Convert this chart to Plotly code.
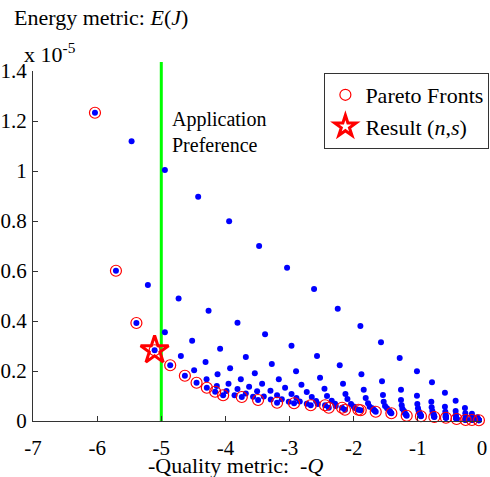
import plotly.graph_objects as go

# ---- data (x = -Q, y = E in units of 1e-5 J) ----
q1 = [-6.034, -5.463, -4.944, -4.425, -3.942, -3.475, -3.039, -2.618, -2.249, -1.896,
      -1.575, -1.283, -1.014, -0.780, -0.578, -0.411, -0.266, -0.157, -0.073]
e1 = [1.233, 1.119, 1.004, 0.897, 0.799, 0.700, 0.613, 0.528, 0.449, 0.380,
      0.315, 0.252, 0.199, 0.155, 0.113, 0.081, 0.052, 0.029, 0.015]
q2 = [-5.707, -5.209, -4.730, -4.263, -3.812, -3.382, -2.970, -2.572, -2.218, -1.880,
      -1.559, -1.263, -1.014, -0.790, -0.578, -0.411, -0.260, -0.151, -0.061]
e2 = [0.601, 0.544, 0.490, 0.441, 0.393, 0.347, 0.301, 0.260, 0.223, 0.187,
      0.159, 0.125, 0.101, 0.077, 0.057, 0.040, 0.031, 0.016, 0.008]
q3 = [-5.388, -4.944, -4.519, -4.083, -3.682, -3.277, -2.899, -2.525, -2.167, -1.844,
      -1.544, -1.263, -1.008, -0.785, -0.572, -0.407, -0.255, -0.150, -0.058]
e3 = [0.392, 0.355, 0.321, 0.289, 0.256, 0.228, 0.199, 0.173, 0.149, 0.125,
      0.104, 0.084, 0.068, 0.055, 0.037, 0.025, 0.017, 0.009, 0.006]
q4 = [-5.104, -4.695, -4.310, -3.927, -3.542, -3.168, -2.815, -2.456, -2.129, -1.813,
      -1.533, -1.252, -0.998, -0.774, -0.567, -0.403, -0.255, -0.148, -0.056]
e4 = [0.283, 0.260, 0.236, 0.211, 0.191, 0.167, 0.145, 0.129, 0.108, 0.092,
      0.077, 0.063, 0.051, 0.040, 0.024, 0.016, 0.010, 0.007, 0.005]
q5 = [-4.861, -4.488, -4.123, -3.760, -3.428, -3.070, -2.732, -2.416, -2.098, -1.777,
      -1.512, -1.241, -0.988, -0.759, -0.565, -0.402, -0.255, -0.148, -0.055]
e5 = [0.223, 0.203, 0.187, 0.167, 0.149, 0.133, 0.116, 0.100, 0.088, 0.071,
      0.060, 0.049, 0.040, 0.030, 0.019, 0.012, 0.008, 0.005, 0.004]
q6 = [-4.632, -4.294, -3.952, -3.631, -3.298, -2.970, -2.654, -2.343, -2.042, -1.751,
      -1.481, -1.217, -0.972, -0.754, -0.564, -0.400, -0.255, -0.148, -0.053]
e6 = [0.181, 0.167, 0.149, 0.137, 0.121, 0.108, 0.096, 0.081, 0.068, 0.057,
      0.051, 0.040, 0.032, 0.024, 0.016, 0.010, 0.006, 0.005, 0.004]
q7 = [-4.450, -4.134, -3.812, -3.506, -3.195, -2.893, -2.587, -2.291, -2.000, -1.709,
      -1.439, -1.201, -0.964, -0.750, -0.564, -0.399, -0.255, -0.148, -0.053]
e7 = [0.153, 0.140, 0.128, 0.119, 0.103, 0.092, 0.080, 0.069, 0.058, 0.051,
      0.040, 0.031, 0.026, 0.021, 0.015, 0.009, 0.005, 0.004, 0.004]
q8 = [-4.290, -3.983, -3.682, -3.402, -3.121, -2.841, -2.561, -2.280, -1.984, -1.688,
      -1.431, -1.190, -0.956, -0.746, -0.562, -0.397, -0.255, -0.157, -0.051]
e8 = [0.133, 0.120, 0.110, 0.098, 0.087, 0.078, 0.068, 0.060, 0.052, 0.045,
      0.036, 0.027, 0.023, 0.019, 0.014, 0.009, 0.005, 0.004, 0.003]
q9 = [-4.160, -3.858, -3.569, -3.293, -3.012, -2.732, -2.447, -2.182, -1.927, -1.673,
      -1.424, -1.182, -0.953, -0.745, -0.562, -0.396, -0.255, -0.157, -0.050]
e9 = [0.117, 0.103, 0.097, 0.086, 0.077, 0.069, 0.063, 0.053, 0.045, 0.041,
      0.033, 0.024, 0.021, 0.017, 0.013, 0.008, 0.004, 0.004, 0.003]
q10 = [-4.036, -3.745, -3.491, -3.195, -2.930, -2.670, -2.389, -2.136, -1.891, -1.657,
       -1.413, -1.174, -0.952, -0.743, -0.562, -0.396, -0.255, -0.157, -0.048]
e10 = [0.103, 0.096, 0.084, 0.073, 0.071, 0.063, 0.053, 0.045, 0.043, 0.037,
       0.031, 0.021, 0.019, 0.016, 0.013, 0.008, 0.004, 0.004, 0.003]

# Pareto-front points (red circles)
pareto_q = [-6.034, -5.707, -5.388, -5.104, -4.861, -4.632, -4.450, -4.290, -4.160,
            -2.447, -2.182, -1.927] + q10
pareto_e = [1.233, 0.601, 0.392, 0.283, 0.223, 0.181, 0.153, 0.133, 0.117,
            0.063, 0.053, 0.045] + e10

# chosen result (n, s)
result_q = [-5.104]
result_e = [0.283]

pref_q = -5.0  # application preference

x_ticks = [-7, -6, -5, -4, -3, -2, -1, 0]
x_ticktext = ["-7", "-6", "-5", "-4", "-3", "-2", "-1", "0"]
y_ticks = [0, 0.2, 0.4, 0.6, 0.8, 1.0, 1.2, 1.4]
y_ticktext = ["0", "0.2", "0.4", "0.6", "0.8", "1", "1.2", "1.4"]

FONT = "Liberation Serif"

fig = go.Figure()

chains = [(q1, e1), (q2, e2), (q3, e3), (q4, e4), (q5, e5),
          (q6, e6), (q7, e7), (q8, e8), (q9, e9), (q10, e10)]
for qs, es in chains:
    fig.add_trace(go.Scatter(
        x=qs, y=es, mode="markers", showlegend=False, hoverinfo="skip",
        marker=dict(symbol="circle", size=6, color="#0000ff", line=dict(width=0)),
        cliponaxis=False))

fig.add_trace(go.Scatter(
    x=pareto_q, y=pareto_e, mode="markers", name="Pareto Fronts",
    marker=dict(symbol="circle-open", size=11, color="#ff0000", line=dict(width=1.2, color="#ff0000")),
    cliponaxis=False))

fig.add_trace(go.Scatter(
    x=result_q, y=result_e, mode="markers", name="Result (<i>n</i>,<i>s</i>)",
    marker=dict(symbol="star-open", size=21, color="#ff0000", line=dict(width=3, color="#ff0000")),
    cliponaxis=False))

# application preference vertical line
fig.add_shape(type="line", xref="x", yref="paper", x0=pref_q, x1=pref_q, y0=0, y1=1.026,
              line=dict(color="#00ff00", width=3), layer="below")

fig.add_annotation(xref="x", yref="paper", x=-4.86, y=0.825, xanchor="left", yanchor="middle",
                   text="Application<br>Preference", showarrow=False, align="left",
                   font=dict(family=FONT, size=20, color="black"))

fig.add_annotation(xref="paper", yref="paper", x=-0.047, y=1.154, xanchor="left", yanchor="middle",
                   text="Energy metric: <i>E</i>(<i>J</i>)", showarrow=False,
                   font=dict(family=FONT, size=22, color="black"))
fig.add_annotation(xref="paper", yref="paper", x=-0.024, y=1.05, xanchor="left", yanchor="middle",
                   text="x 10<sup>-5</sup>", showarrow=False,
                   font=dict(family=FONT, size=22, color="black"))
fig.add_annotation(xref="paper", yref="paper", x=0.452, y=-0.126, xanchor="center", yanchor="middle",
                   text="-Quality metric:  -<i>Q</i>", showarrow=False,
                   font=dict(family=FONT, size=22, color="black"))

axis_common = dict(showgrid=False, zeroline=False, showline=True, linecolor="#333333", linewidth=1,
                   ticks="inside", ticklen=5, tickcolor="#333333", mirror=False, automargin=False,
                   tickfont=dict(family=FONT, size=21, color="black"))

fig.update_layout(
    width=490, height=477,
    margin=dict(l=33, r=8, t=71, b=56, autoexpand=False),
    paper_bgcolor="white", plot_bgcolor="white",
    font=dict(family=FONT, size=20, color="black"),
    xaxis=dict(range=[-7, 0], tickvals=x_ticks, ticktext=x_ticktext, ticklabelstandoff=8, **axis_common),
    yaxis=dict(range=[0, 1.4], tickvals=y_ticks, ticktext=y_ticktext, ticklabelstandoff=1, **axis_common),
    legend=dict(xref="container", yref="container", x=0.662, y=0.847, xanchor="left", yanchor="top",
                bordercolor="#333333", borderwidth=1, bgcolor="white",
                font=dict(family=FONT, size=22, color="black"),
                itemwidth=30, tracegroupgap=0),
)

fig.write_html("out.html")
